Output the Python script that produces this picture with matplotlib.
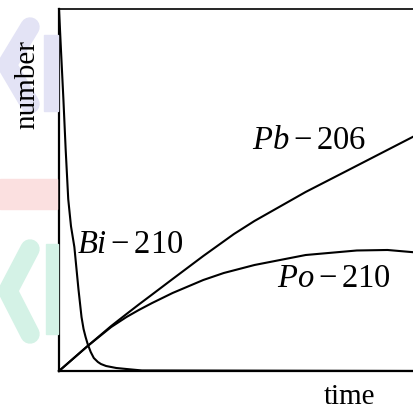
import matplotlib
matplotlib.use("Agg")
import matplotlib.pyplot as plt
from matplotlib.patches import Rectangle
from matplotlib.lines import Line2D

plt.rcParams['mathtext.fontset'] = 'custom'
plt.rcParams['mathtext.rm'] = 'Liberation Serif'
plt.rcParams['mathtext.it'] = 'Liberation Serif:italic'
plt.rcParams['font.family'] = ['Liberation Serif', 'DejaVu Serif']

# Data (time 0..100, number 0..100)
bi_t = [0, 0.6, 1.21, 1.83, 2.54, 3.3, 4.23, 5.35, 6.2, 6.76, 7.32, 7.89, 8.73, 9.58,
        10.7, 11.55, 12.96, 15.77, 18.59, 22.82, 100]
bi_n = [100, 87.5, 75.1, 61.3, 47.5, 40.0, 34.25, 22.65, 14.9, 11.6, 9.39, 7.46, 5.25,
        3.59, 2.49, 1.93, 1.38, 0.83, 0.55, 0.15, 0]

pb_t = [0, 7.89, 14.37, 18.59, 21.97, 25.63, 31.27, 39.72, 48.17, 53.80, 67.89, 79.15, 100]
pb_n = [0, 6.91, 12.43, 15.75, 18.37, 21.13, 25.41, 31.77, 37.85, 41.44, 49.45, 55.25, 66.02]

po_t = [0, 7.89, 14.37, 18.59, 21.97, 25.63, 31.27, 39.72, 45.35, 53.80, 67.89, 81.97,
        90.42, 100]
po_n = [0, 6.91, 12.15, 14.92, 16.85, 18.78, 21.55, 25.14, 27.07, 29.28, 32.04, 33.29,
        33.43, 32.6]

labels = {
    'bi': (r'$Bi-210$', 4.9, 32.9),
    'pb': (r'$Pb-206$', 53.0, 61.6),
    'po': (r'$Po-210$', 60.0, 23.5),
}

W, H = 414, 410
fig = plt.figure(figsize=(W / 100, H / 100), dpi=100)


def fx(px):
    return px / W


def fy(py):
    return 1 - py / H


# faint watermark shapes outside the axes
lav = (0.89, 0.89, 0.96)
pink = (0.985, 0.88, 0.88)
mint = (0.83, 0.95, 0.90)
fig.patches.append(Rectangle((0, fy(210)), fx(57), fy(180) - fy(210),
                             transform=fig.transFigure, color=pink, zorder=0))
for pts, col in [([(30, 28), (7, 66), (30, 105)], lav),
                 ([(30, 250), (8, 292), (30, 335)], mint)]:
    xs = [fx(p[0]) for p in pts]
    ys = [fy(p[1]) for p in pts]
    fig.lines.append(Line2D(xs, ys, transform=fig.transFigure, color=col, lw=14,
                            solid_capstyle='round', solid_joinstyle='round', zorder=0))
fig.patches.append(Rectangle((fx(44), fy(112)), fx(14), fy(36) - fy(112),
                             transform=fig.transFigure, color=lav, zorder=0))
fig.patches.append(Rectangle((fx(46), fy(335)), fx(12), fy(245) - fy(335),
                             transform=fig.transFigure, color=mint, zorder=0))

ax = fig.add_axes([59 / W, (H - 372) / H, 1.02 - 59 / W, (372 - 10) / H])
ax.set_xlim(0, 100)
ax.set_ylim(0, 100)
ax.set_xticks([])
ax.set_yticks([])
ax.spines['right'].set_visible(False)
for s in ['left', 'bottom']:
    ax.spines[s].set_linewidth(1.6)
ax.spines['top'].set_linewidth(1.2)

for t, n in [(bi_t, bi_n), (pb_t, pb_n), (po_t, po_n)]:
    ax.plot(t, n, color='black', lw=1.5, clip_on=False,
            solid_joinstyle='round')

for key, (txt, x, y) in labels.items():
    ax.text(x, y, txt, fontsize=23.5, ha='left', va='baseline', color='black')

fig.text(fx(27), fy(85), 'number', rotation=90, ha='center', va='center', fontsize=21)
fig.text(fx(350), fy(404), 'time', ha='center', va='baseline', fontsize=21)

fig.savefig('out.png', dpi=100)
